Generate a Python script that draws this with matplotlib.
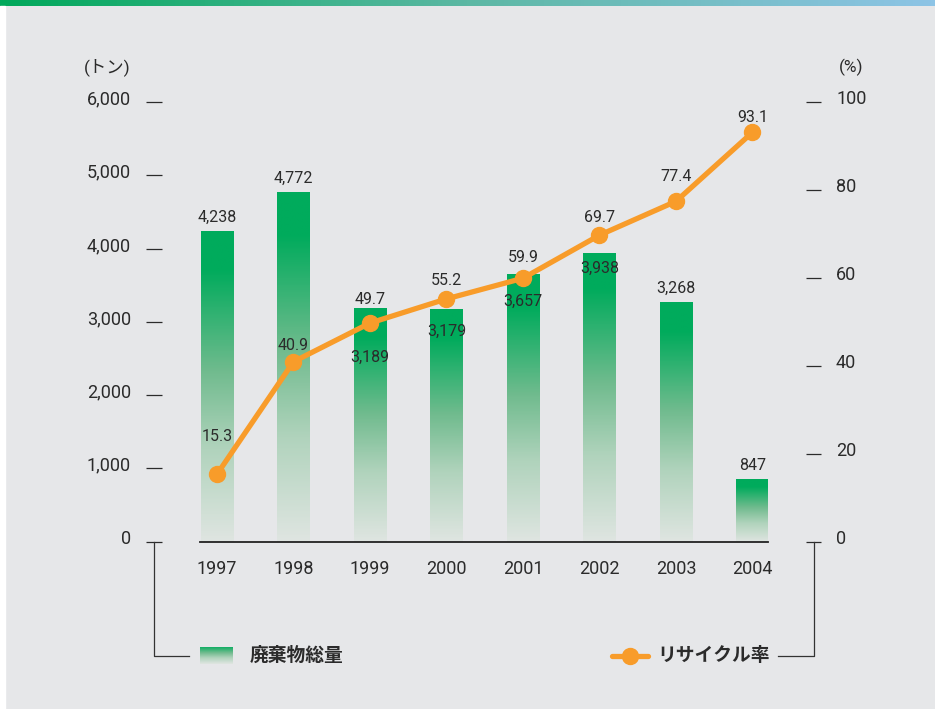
import matplotlib.pyplot as plt
import numpy as np
from matplotlib.colors import LinearSegmentedColormap
from matplotlib.lines import Line2D
from matplotlib.transforms import ScaledTranslation

plt.rcParams['font.family'] = ['Roboto', 'Noto Sans CJK JP', 'DejaVu Sans']

# data
years = ['1997', '1998', '1999', '2000', '2001', '2002', '2003', '2004']
waste_total = [4238, 4772, 3189, 3179, 3657, 3938, 3268, 847]
recycle_rate = [15.3, 40.9, 49.7, 55.2, 59.9, 69.7, 77.4, 93.1]
left_ticks = [0, 1000, 2000, 3000, 4000, 5000, 6000]
right_ticks = [0, 20, 40, 60, 80, 100]

# label nudges in pixels (positive = up)
bar_label_dy = [14, 14, -49, -23, -28, -15, 14, 14]
rate_label_dy = [38, 16, 24, 18, 21, 18, 25, 15]

W, H = 935, 709
BG = '#e6e7e9'
TXT = '#2b2b2b'
ORANGE = '#f89c2a'
green_cmap = LinearSegmentedColormap.from_list(
    'bar', [(0.0, '#dfe5e1'), (0.3, '#b0d3bc'), (0.55, '#70bb8e'),
            (0.88, '#00ab5c'), (1.0, '#00ab5c')])

def fx(px):
    return px / W

def fy(py):
    return 1 - py / H

fig = plt.figure(figsize=(W / 100, H / 100), dpi=100, facecolor=BG)

# top strip and white left margin
top = fig.add_axes([0, fy(6), 1, 6 / H])
top.imshow(np.linspace(0, 1, 256)[None, :], aspect='auto',
           cmap=LinearSegmentedColormap.from_list('top', ['#00a85a', '#5cb8a4', '#8dc4e6']))
top.axis('off')
fig.patches.append(plt.Rectangle((0, 0), fx(5), fy(6), transform=fig.transFigure,
                                 color='white', zorder=0))

ax = fig.add_axes([fx(200), fy(541.5), fx(768) - fx(200), fy(102) - fy(541.5)])
ax.set_facecolor('none')
x = np.arange(len(years))
bw = 0.43
for xi, v in zip(x, waste_total):
    ax.imshow(np.linspace(1, 0, 200)[:, None], aspect='auto', cmap=green_cmap,
              extent=(xi - bw / 2, xi + bw / 2, 0, v), zorder=1, vmin=0, vmax=1)
ax.set_xlim(-0.222, 7.203)
ax.set_ylim(0, 6000)

ax.spines[['top', 'right']].set_visible(False)
ax.spines['left'].set_position(('outward', 38 * 0.72))
ax.spines['left'].set_visible(False)
ax.spines['bottom'].set_color('#222222')
ax.spines['bottom'].set_linewidth(1.3)
ax.set_yticks(left_ticks)
ax.set_yticklabels([f'{t:,}' for t in left_ticks])
ax.tick_params(axis='y', direction='out', length=16 * 0.72, width=0.9, color=TXT,
               pad=15 * 0.72, labelsize=13, labelcolor=TXT)
ax.set_xticks(x)
ax.set_xticklabels(years)
ax.tick_params(axis='x', length=0, pad=13, labelsize=13, labelcolor=TXT)
shift = ScaledTranslation(0, 0.045, fig.dpi_scale_trans)
for lab in ax.get_yticklabels():
    lab.set_transform(lab.get_transform() + shift)

for xi, v, dy in zip(x, waste_total, bar_label_dy):
    ax.annotate(f'{v:,}', (xi, v), xytext=(0, dy * 0.72), textcoords='offset points',
                ha='center', va='center', fontsize=11.5, color=TXT, zorder=4)

ax2 = ax.twinx()
ax2.set_ylim(0, 100)
ax2.spines[['top', 'left', 'bottom']].set_visible(False)
ax2.spines['right'].set_position(('outward', 38 * 0.72))
ax2.spines['right'].set_visible(False)
ax2.set_yticks(right_ticks)
ax2.tick_params(axis='y', direction='out', length=15 * 0.72, width=0.9, color=TXT,
                pad=15 * 0.72, labelsize=13, labelcolor=TXT)
for lab in ax2.get_yticklabels():
    lab.set_transform(lab.get_transform() + shift)

ax2.plot(x, recycle_rate, color=ORANGE, linewidth=3.8, marker='o', markersize=11.5,
         solid_capstyle='round', zorder=3)
for xi, v, dy in zip(x, recycle_rate, rate_label_dy):
    ax2.annotate(f'{v}', (xi, v), xytext=(0, dy * 0.72), textcoords='offset points',
                 ha='center', va='center', fontsize=11.5, color=TXT, zorder=4)

fig.text(fx(107), fy(67), '(トン)', ha='center', va='center', fontsize=12.5, color=TXT)
fig.text(fx(851), fy(67), '(%)', ha='center', va='center', fontsize=12.5, color=TXT)

# bracket lines down to the legend
fig.add_artist(Line2D([fx(153.5), fx(153.5), fx(189)], [fy(541.5), fy(656), fy(656)],
                      transform=fig.transFigure, color='#333333', linewidth=0.9))
fig.add_artist(Line2D([fx(814), fx(814), fx(778)], [fy(541.5), fy(656), fy(656)],
                      transform=fig.transFigure, color='#333333', linewidth=0.9))

# legend
lg = fig.add_axes([fx(200), fy(664), 33 / W, 17 / H])
lg.imshow(np.linspace(1, 0, 50)[:, None], aspect='auto', cmap=green_cmap, vmin=0, vmax=1.15)
lg.axis('off')
fig.text(fx(250), fy(656), '廃棄物総量', ha='left', va='center', fontsize=13.5,
         color=TXT, fontweight='bold')
fig.add_artist(Line2D([fx(612), fx(648)], [fy(656), fy(656)], transform=fig.transFigure,
                      color=ORANGE, linewidth=3.8, solid_capstyle='round'))
fig.add_artist(Line2D([fx(630)], [fy(656)], transform=fig.transFigure, color=ORANGE,
                      marker='o', markersize=11.5, linestyle='none'))
fig.text(fx(657), fy(656), 'リサイクル率', ha='left', va='center', fontsize=13.5,
         color=TXT, fontweight='bold')

fig.savefig('out.png', dpi=100, facecolor=BG)
